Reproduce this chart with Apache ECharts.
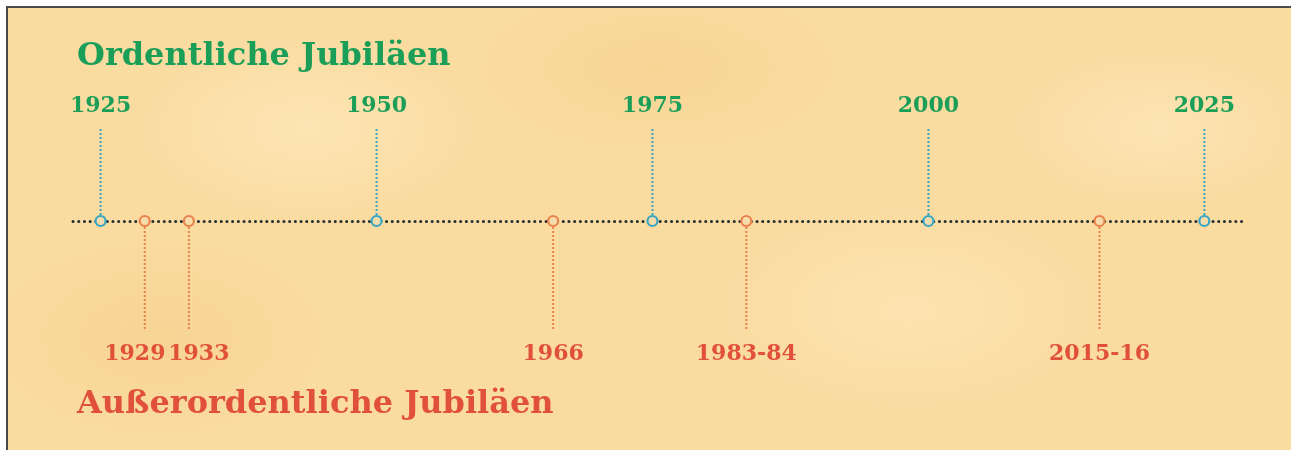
<!DOCTYPE html>
<html>
<head>
<meta charset="utf-8">
<script src="https://cdn.jsdelivr.net/npm/echarts@6/dist/echarts.min.js"></script>
<style>
html,body{margin:0;padding:0;background:#fff;width:1291px;height:450px;overflow:hidden;}
#frame{position:absolute;left:6px;top:6px;width:1285px;height:444px;border-left:2px solid #4a4a4a;border-top:2px solid #4a4a4a;box-sizing:border-box;
background:
 radial-gradient(ellipse 260px 140px at 300px 120px, rgba(255,240,200,0.5), rgba(255,240,200,0) 70%),
 radial-gradient(ellipse 300px 160px at 900px 300px, rgba(255,238,195,0.45), rgba(255,238,195,0) 70%),
 radial-gradient(ellipse 220px 120px at 1150px 120px, rgba(255,240,205,0.45), rgba(255,240,205,0) 70%),
 radial-gradient(ellipse 240px 140px at 150px 330px, rgba(240,196,120,0.3), rgba(240,196,120,0) 70%),
 radial-gradient(ellipse 260px 120px at 650px 60px, rgba(240,200,125,0.3), rgba(240,200,125,0) 70%),
 #fadba0;}
#chart{position:absolute;left:0;top:0;width:1291px;height:450px;}
</style>
</head>
<body>
<div id="frame"></div>
<div id="chart"></div>
<script>
// Ordentliche Jubiläen (regular jubilees)
const ordentlicheYears = [1925, 1950, 1975, 2000, 2025];
const ordentlicheLabels = ['1925', '1950', '1975', '2000', '2025'];
// Außerordentliche Jubiläen (extraordinary jubilees); ranges placed at their midpoint
const ausserYears = [1929, 1933, 1966, 1983.5, 2015.5];
const ausserLabels = ['1929', '1933', '1966', '1983-84', '2015-16'];

const titleTop = 'Ordentliche Jubiläen';
const titleBottom = 'Außerordentliche Jubiläen';

const GREEN = '#1a9e58';
const RED = '#e0503a';
const BLUE = '#36a6c4';
const ORANGE = '#e9824c';
const FONT = '"DejaVu Serif", "Liberation Serif", serif';
const LABEL_GAP = 64; // minimum distance between label centres (pixels)

const chart = echarts.init(document.getElementById('chart'), null, {renderer: 'canvas'});

// spread label centres so neighbouring labels do not overlap
function spreadLabels(xs) {
  const out = xs.slice();
  for (let iter = 0; iter < 10; iter++) {
    for (let i = 0; i < out.length - 1; i++) {
      const d = out[i + 1] - out[i];
      if (d < LABEL_GAP) {
        const push = (LABEL_GAP - d) / 2;
        out[i] -= push;
        out[i + 1] += push;
      }
    }
  }
  return out;
}

function makeRender(color, up, labelColor, labels, years) {
  return function (params, api) {
    const p = api.coord([api.value(0), 0]);
    const x = p[0], y = p[1];
    const allX = years.map(v => api.coord([v, 0])[0]);
    const lx = spreadLabels(allX)[params.dataIndex];
    const label = labels[params.dataIndex];
    const stem = up
      ? {type: 'line', shape: {x1: x, y1: y - 6, x2: x, y2: y - 94},
         style: {stroke: color, lineWidth: 2, lineDash: [2, 2]}}
      : {type: 'line', shape: {x1: x, y1: y + 6, x2: x, y2: y + 110},
         style: {stroke: color, lineWidth: 2, lineDash: [2, 2]}};
    return {
      type: 'group',
      children: [
        stem,
        {type: 'circle', shape: {cx: x, cy: y, r: 5},
         style: {fill: '#f6dcaa', stroke: color, lineWidth: 2.2}},
        {type: 'text',
         style: {text: label, x: lx, y: up ? y - 115 : y + 133,
                 align: 'center', verticalAlign: 'middle',
                 fill: labelColor, font: 'bold 22px ' + FONT}}
      ]
    };
  };
}

chart.setOption({
  backgroundColor: 'transparent',
  animation: false,
  title: [
    {text: titleTop, left: 72, top: 36,
     textStyle: {color: GREEN, fontSize: 32, fontWeight: 'bold', fontFamily: FONT}},
    {text: titleBottom, left: 72, top: 384,
     textStyle: {color: RED, fontSize: 32, fontWeight: 'bold', fontFamily: FONT}}
  ],
  grid: {left: 73, right: 48, top: 0, height: 442},
  xAxis: {
    type: 'value', min: 1922.5, max: 2028.5,
    axisLine: {show: true, onZero: true,
      lineStyle: {color: '#263035', width: 3, type: [0.1, 5.6], cap: 'round'}},
    axisTick: {show: false}, axisLabel: {show: false}, splitLine: {show: false}
  },
  yAxis: {
    type: 'value', min: -1, max: 1, show: false,
    axisLine: {show: false}, splitLine: {show: false}
  },
  series: [
    {type: 'custom', name: 'Ordentliche Jubiläen',
     data: ordentlicheYears.map(v => [v, 0]),
     renderItem: makeRender(BLUE, true, GREEN, ordentlicheLabels, ordentlicheYears), z: 5},
    {type: 'custom', name: 'Außerordentliche Jubiläen',
     data: ausserYears.map(v => [v, 0]),
     renderItem: makeRender(ORANGE, false, RED, ausserLabels, ausserYears), z: 5}
  ]
});
</script>
</body>
</html>
